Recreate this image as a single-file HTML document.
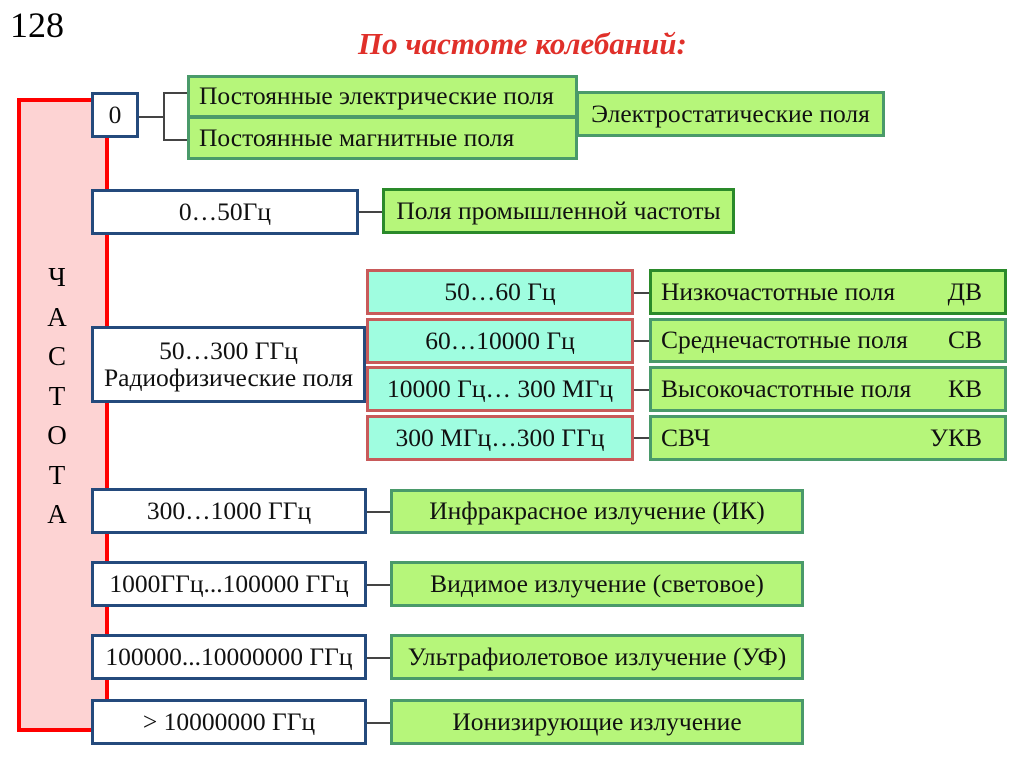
<!DOCTYPE html>
<html><head><meta charset="utf-8"><style>
body{margin:0;width:1024px;height:767px;background:#fff;position:relative;overflow:hidden;font-family:"Liberation Serif",serif;}
.b{position:absolute;box-sizing:border-box;display:flex;align-items:center;justify-content:center;font-size:25.5px;color:#111;text-align:center;line-height:1.05;white-space:nowrap;}
.n{border:3px solid #244a7c;background:#fff;}
.g{border:3px solid #4a9a6a;background:#b6f67a;}
.gd{border:3px solid #2a8a2a;background:#b6f67a;}
.t{border:3px solid #c85a5a;background:#9ffde0;}
.l{position:absolute;background:#444;}
.r{position:absolute;background:#f00;}
.sb{justify-content:space-between;padding:0 22px 0 9px;}
</style></head><body>
<div style="position:absolute;left:10px;top:4px;font-size:36px;">128</div>
<div style="position:absolute;left:358px;top:26px;font-size:31px;font-weight:bold;font-style:italic;color:#e0302a;white-space:nowrap;">По частоте колебаний:</div>
<!-- red bracket -->
<div style="position:absolute;left:19px;top:100px;width:88px;height:630px;background:#fdd3d3;"></div>
<div class="r" style="left:17px;top:98px;width:75px;height:4px;"></div>
<div class="r" style="left:17px;top:98px;width:4px;height:634px;"></div>
<div class="r" style="left:17px;top:728px;width:75px;height:4px;"></div>
<div class="r" style="left:105px;top:135px;width:4px;height:595px;"></div>
<div style="position:absolute;left:37px;top:258px;width:40px;font-size:27px;line-height:39.5px;text-align:center;">Ч<br>А<br>С<br>Т<br>О<br>Т<br>А</div>
<!-- left boxes -->
<div class="b n" style="left:91px;top:92px;width:48px;height:46px;">0</div>
<div class="b n" style="left:91px;top:189px;width:268px;height:46px;">0…50Гц</div>
<div class="b n" style="left:91px;top:326px;width:275px;height:77px;">50…300 ГГц<br>Радиофизические поля</div>
<div class="b n" style="left:91px;top:488px;width:276px;height:46px;">300…1000 ГГц</div>
<div class="b n" style="left:91px;top:561px;width:276px;height:46px;">1000ГГц...100000 ГГц</div>
<div class="b n" style="left:91px;top:634px;width:276px;height:46px;">100000...10000000 ГГц</div>
<div class="b n" style="left:91px;top:699px;width:276px;height:46px;">&gt; 10000000 ГГц</div>
<!-- connectors -->
<div class="l" style="left:139px;top:116px;width:25px;height:2px;"></div>
<div class="l" style="left:163px;top:92px;width:2px;height:49px;"></div>
<div class="l" style="left:163px;top:92px;width:26px;height:2px;"></div>
<div class="l" style="left:163px;top:139px;width:26px;height:2px;"></div>
<div class="l" style="left:359px;top:211px;width:24px;height:2px;"></div>
<div class="l" style="left:634px;top:292px;width:16px;height:2px;"></div>
<div class="l" style="left:634px;top:340px;width:16px;height:2px;"></div>
<div class="l" style="left:634px;top:389px;width:16px;height:2px;"></div>
<div class="l" style="left:634px;top:437px;width:16px;height:2px;"></div>
<div class="l" style="left:367px;top:511px;width:25px;height:2px;"></div>
<div class="l" style="left:367px;top:584px;width:25px;height:2px;"></div>
<div class="l" style="left:367px;top:657px;width:25px;height:2px;"></div>
<div class="l" style="left:367px;top:722px;width:25px;height:2px;"></div>
<!-- green -->
<div class="b g" style="left:187px;top:75px;width:391px;height:43px;justify-content:flex-start;padding-left:9px;">Постоянные электрические поля</div>
<div class="b g" style="left:187px;top:116px;width:391px;height:44px;justify-content:flex-start;padding-left:9px;">Постоянные магнитные поля</div>
<div class="b g" style="left:576px;top:91px;width:309px;height:46px;">Электростатические поля</div>
<div class="b gd" style="left:382px;top:188px;width:353px;height:46px;">Поля промышленной частоты</div>
<div class="b t" style="left:366px;top:269px;width:268px;height:46px;">50…60 Гц</div>
<div class="b t" style="left:366px;top:318px;width:268px;height:46px;">60…10000 Гц</div>
<div class="b t" style="left:366px;top:366px;width:268px;height:46px;">10000 Гц… 300 МГц</div>
<div class="b t" style="left:366px;top:415px;width:268px;height:46px;">300 МГц…300 ГГц</div>
<div class="b gd sb" style="left:649px;top:269px;width:358px;height:46px;"><span>Низкочастотные поля</span><span>ДВ</span></div>
<div class="b g sb" style="left:649px;top:318px;width:358px;height:45px;"><span>Среднечастотные поля</span><span>СВ</span></div>
<div class="b g sb" style="left:649px;top:366px;width:358px;height:46px;"><span>Высокочастотные поля</span><span>КВ</span></div>
<div class="b g sb" style="left:649px;top:415px;width:358px;height:46px;"><span>СВЧ</span><span>УКВ</span></div>
<div class="b g" style="left:390px;top:489px;width:414px;height:45px;">Инфракрасное излучение (ИК)</div>
<div class="b g" style="left:390px;top:561px;width:414px;height:46px;">Видимое излучение (световое)</div>
<div class="b g" style="left:390px;top:634px;width:414px;height:46px;">Ультрафиолетовое излучение (УФ)</div>
<div class="b g" style="left:390px;top:699px;width:414px;height:46px;">Ионизирующие излучение</div>
</body></html>
